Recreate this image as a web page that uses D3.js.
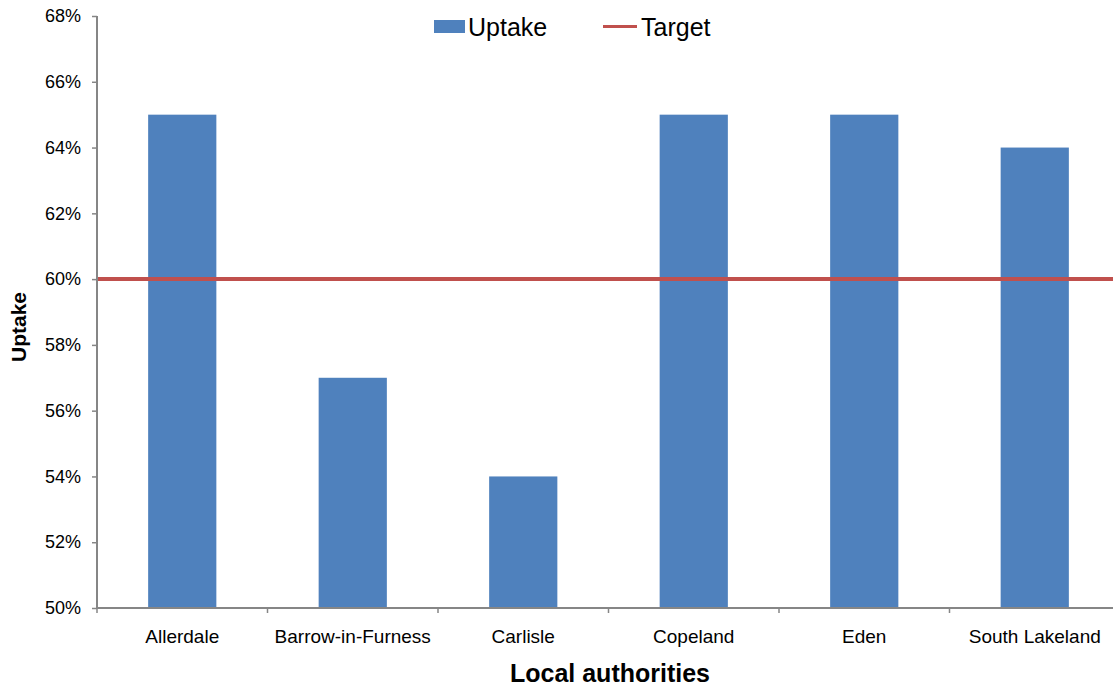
<!DOCTYPE html>
<html>
<head>
<meta charset="utf-8">
<script src="https://cdn.jsdelivr.net/npm/d3@7"></script>
<style>
  body { margin: 0; background: #fff; }
  svg { display: block; font-family: "Liberation Sans", Arial, sans-serif; }
  .tick text { fill: #000; }
</style>
</head>
<body>
<div class="chart"></div>
<script>
/* Data
============================================= */
const CATEGORIES = ["Allerdale", "Barrow-in-Furness", "Carlisle", "Copeland", "Eden", "South Lakeland"];
const UPTAKE = [65, 57, 54, 65, 65, 64];
const TARGET = 60;
const Y_TICKS = [50, 52, 54, 56, 58, 60, 62, 64, 66, 68];

/* Layout
============================================= */
const SVG_WIDTH = 1113;
const SVG_HEIGHT = 688;
const AXIS_COLOR = "#868686";
const BAR_COLOR = "#4F81BD";
const LINE_COLOR = "#C0504D";

var margin = { top: 16, left: 97, bottom: 80 };
var plotRight = 1120;
var height = SVG_HEIGHT - margin.top - margin.bottom;

var svg = d3.select(".chart")
    .append("svg")
    .attr("width", SVG_WIDTH)
    .attr("height", SVG_HEIGHT);

// scales
var xBand = d3.scaleBand()
    .domain(CATEGORIES)
    .range([margin.left, plotRight])
    .paddingInner(0.6)
    .paddingOuter(0.3);

var yLinear = d3.scaleLinear()
    .domain([50, 68])
    .range([margin.top + height, margin.top]);

// bars
svg.append("g")
    .selectAll("rect")
    .data(UPTAKE)
    .enter()
    .append("rect")
    .attr("x", (d, i) => xBand(CATEGORIES[i]))
    .attr("width", xBand.bandwidth())
    .attr("y", d => yLinear(d))
    .attr("height", d => yLinear(50) - yLinear(d))
    .attr("fill", BAR_COLOR);

// target line across the plot
svg.append("line")
    .attr("x1", margin.left)
    .attr("x2", plotRight)
    .attr("y1", yLinear(TARGET))
    .attr("y2", yLinear(TARGET))
    .attr("stroke", LINE_COLOR)
    .attr("stroke-width", 4);

// y axis
var leftAxis = d3.axisLeft(yLinear)
    .tickValues(Y_TICKS)
    .tickSize(5)
    .tickPadding(11)
    .tickFormat(d => d + "%");

var yAxis = svg.append("g")
    .attr("transform", `translate(${margin.left}, 0)`)
    .call(leftAxis);

yAxis.select(".domain").attr("stroke", AXIS_COLOR).attr("stroke-width", 2)
    .attr("d", `M0,${yLinear(68)}V${yLinear(50)}`);
yAxis.selectAll(".tick line").attr("stroke", AXIS_COLOR).attr("stroke-width", 1.5);
yAxis.selectAll(".tick text").style("font-size", "18px");

// x axis: ticks on category boundaries
var boundaries = d3.range(CATEGORIES.length + 1).map(i => margin.left + i * xBand.step());
var xAxis = svg.append("g");

xAxis.append("line")
    .attr("x1", margin.left)
    .attr("x2", plotRight)
    .attr("y1", yLinear(50))
    .attr("y2", yLinear(50))
    .attr("stroke", AXIS_COLOR)
    .attr("stroke-width", 2);

xAxis.selectAll("line.tk")
    .data(boundaries)
    .enter()
    .append("line")
    .attr("class", "tk")
    .attr("x1", d => d)
    .attr("x2", d => d)
    .attr("y1", yLinear(50))
    .attr("y2", yLinear(50) + 5)
    .attr("stroke", AXIS_COLOR)
    .attr("stroke-width", 1.5);

xAxis.selectAll("text")
    .data(CATEGORIES)
    .enter()
    .append("text")
    .attr("x", d => xBand(d) + xBand.bandwidth() / 2)
    .attr("y", 643)
    .attr("text-anchor", "middle")
    .style("font-size", "19px")
    .text(d => d);

// axis titles
svg.append("text")
    .attr("x", 610)
    .attr("y", 682)
    .attr("text-anchor", "middle")
    .style("font-size", "25px")
    .style("font-weight", "bold")
    .text("Local authorities");

svg.append("text")
    .attr("transform", "translate(26, 327) rotate(-90)")
    .attr("text-anchor", "middle")
    .style("font-size", "21px")
    .style("font-weight", "bold")
    .text("Uptake");

// legend
var legend = svg.append("g");

legend.append("rect")
    .attr("x", 434)
    .attr("y", 20)
    .attr("width", 31)
    .attr("height", 13)
    .attr("fill", BAR_COLOR);

legend.append("text")
    .attr("x", 468)
    .attr("y", 36)
    .style("font-size", "25px")
    .text("Uptake");

legend.append("line")
    .attr("x1", 603)
    .attr("x2", 637)
    .attr("y1", 26.5)
    .attr("y2", 26.5)
    .attr("stroke", LINE_COLOR)
    .attr("stroke-width", 3);

legend.append("text")
    .attr("x", 641)
    .attr("y", 36)
    .style("font-size", "25px")
    .text("Target");
</script>
</body>
</html>
